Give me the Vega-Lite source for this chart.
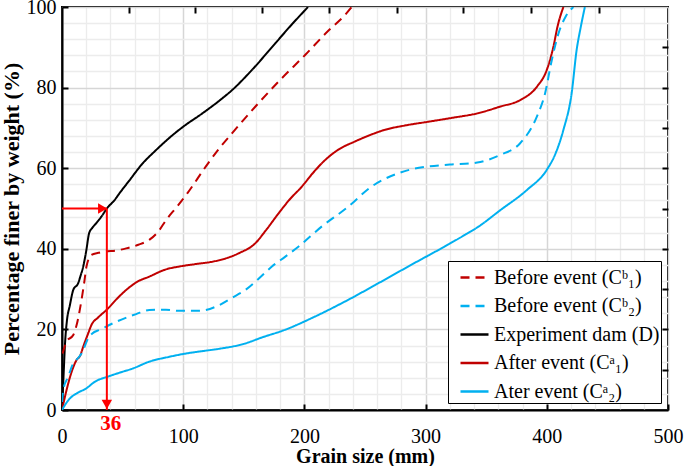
{
  "$schema": "https://vega.github.io/schema/vega-lite/v6.json",
  "width": 606,
  "height": 403,
  "autosize": "none",
  "padding": {"left": 62, "top": 7, "right": 17, "bottom": 56},
  "config": {
    "view": {"stroke": "black", "strokeWidth": 2},
    "font": "Liberation Serif",
    "axis": {"labelFont": "Liberation Serif", "labelFontSize": 20, "labelColor": "black", "labelFlush": false, "titleFont": "Liberation Serif"},
    "legend": {
      "labelFont": "Liberation Serif",
      "labelFontSize": 20,
      "labelColor": "black",
      "labelLimit": 400,
      "symbolType": "stroke",
      "symbolSize": 784,
      "symbolStrokeWidth": 2.5,
      "symbolOffset": 10,
      "strokeColor": "black",
      "fillColor": "white",
      "padding": 1,
      "rowPadding": 2.5,
      "labelOffset": 4,
      "cornerRadius": 0
    }
  },
  "datasets": {
    "curves": [
      {"series": "Experiment dam (D)", "x": 0, "y": 0},
      {"series": "Experiment dam (D)", "x": 1.5, "y": 10},
      {"series": "Experiment dam (D)", "x": 2.5, "y": 16.5},
      {"series": "Experiment dam (D)", "x": 4, "y": 22},
      {"series": "Experiment dam (D)", "x": 6.5, "y": 26},
      {"series": "Experiment dam (D)", "x": 9.3, "y": 29.8},
      {"series": "Experiment dam (D)", "x": 13.4, "y": 31.5},
      {"series": "Experiment dam (D)", "x": 15, "y": 33},
      {"series": "Experiment dam (D)", "x": 17.5, "y": 35.6},
      {"series": "Experiment dam (D)", "x": 20, "y": 39.5},
      {"series": "Experiment dam (D)", "x": 22.4, "y": 43.9},
      {"series": "Experiment dam (D)", "x": 25, "y": 45.2},
      {"series": "Experiment dam (D)", "x": 28.4, "y": 46.4},
      {"series": "Experiment dam (D)", "x": 33, "y": 48.2},
      {"series": "Experiment dam (D)", "x": 37, "y": 50},
      {"series": "Experiment dam (D)", "x": 43.4, "y": 52.1},
      {"series": "Experiment dam (D)", "x": 47.5, "y": 53.8},
      {"series": "Experiment dam (D)", "x": 55.7, "y": 57},
      {"series": "Experiment dam (D)", "x": 66, "y": 61},
      {"series": "Experiment dam (D)", "x": 77.6, "y": 64.5},
      {"series": "Experiment dam (D)", "x": 91.2, "y": 68.2},
      {"series": "Experiment dam (D)", "x": 100, "y": 70.3},
      {"series": "Experiment dam (D)", "x": 115.8, "y": 73.6},
      {"series": "Experiment dam (D)", "x": 130, "y": 76.8},
      {"series": "Experiment dam (D)", "x": 140.4, "y": 79.4},
      {"series": "Experiment dam (D)", "x": 156.8, "y": 84.4},
      {"series": "Experiment dam (D)", "x": 176, "y": 91},
      {"series": "Experiment dam (D)", "x": 190, "y": 95.8},
      {"series": "Experiment dam (D)", "x": 203, "y": 100},

      {"series": "Before event (Cᵇ₁)", "x": 0.5, "y": 14},
      {"series": "Before event (Cᵇ₁)", "x": 3.8, "y": 17},
      {"series": "Before event (Cᵇ₁)", "x": 9.3, "y": 18.6},
      {"series": "Before event (Cᵇ₁)", "x": 12, "y": 21},
      {"series": "Before event (Cᵇ₁)", "x": 16.1, "y": 27.3},
      {"series": "Before event (Cᵇ₁)", "x": 18.5, "y": 32},
      {"series": "Before event (Cᵇ₁)", "x": 20.2, "y": 35.6},
      {"series": "Before event (Cᵇ₁)", "x": 24.3, "y": 38.5},
      {"series": "Before event (Cᵇ₁)", "x": 30, "y": 39},
      {"series": "Before event (Cᵇ₁)", "x": 35.2, "y": 39.3},
      {"series": "Before event (Cᵇ₁)", "x": 45, "y": 39.6},
      {"series": "Before event (Cᵇ₁)", "x": 53, "y": 40.1},
      {"series": "Before event (Cᵇ₁)", "x": 63, "y": 41},
      {"series": "Before event (Cᵇ₁)", "x": 72, "y": 42.2},
      {"series": "Before event (Cᵇ₁)", "x": 80, "y": 44.5},
      {"series": "Before event (Cᵇ₁)", "x": 85.8, "y": 47.1},
      {"series": "Before event (Cᵇ₁)", "x": 95, "y": 50.5},
      {"series": "Before event (Cᵇ₁)", "x": 103.5, "y": 53.8},
      {"series": "Before event (Cᵇ₁)", "x": 118.6, "y": 60.4},
      {"series": "Before event (Cᵇ₁)", "x": 130, "y": 65},
      {"series": "Before event (Cᵇ₁)", "x": 140.4, "y": 68.7},
      {"series": "Before event (Cᵇ₁)", "x": 159.6, "y": 75.3},
      {"series": "Before event (Cᵇ₁)", "x": 178.7, "y": 81.5},
      {"series": "Before event (Cᵇ₁)", "x": 200.6, "y": 88.1},
      {"series": "Before event (Cᵇ₁)", "x": 219.7, "y": 94.1},
      {"series": "Before event (Cᵇ₁)", "x": 233.4, "y": 98},
      {"series": "Before event (Cᵇ₁)", "x": 239, "y": 100},

      {"series": "After event (Cᵃ₁)", "x": 0, "y": 0},
      {"series": "After event (Cᵃ₁)", "x": 3.8, "y": 5},
      {"series": "After event (Cᵃ₁)", "x": 8, "y": 9.5},
      {"series": "After event (Cᵃ₁)", "x": 12, "y": 12.4},
      {"series": "After event (Cᵃ₁)", "x": 15, "y": 13.5},
      {"series": "After event (Cᵃ₁)", "x": 17.5, "y": 15.7},
      {"series": "After event (Cᵃ₁)", "x": 21.6, "y": 19},
      {"series": "After event (Cᵃ₁)", "x": 24.3, "y": 21.1},
      {"series": "After event (Cᵃ₁)", "x": 30, "y": 23},
      {"series": "After event (Cᵃ₁)", "x": 38, "y": 25.2},
      {"series": "After event (Cᵃ₁)", "x": 45, "y": 27.5},
      {"series": "After event (Cᵃ₁)", "x": 53, "y": 29.8},
      {"series": "After event (Cᵃ₁)", "x": 62, "y": 31.8},
      {"series": "After event (Cᵃ₁)", "x": 72, "y": 33.1},
      {"series": "After event (Cᵃ₁)", "x": 85.8, "y": 34.9},
      {"series": "After event (Cᵃ₁)", "x": 96.7, "y": 35.6},
      {"series": "After event (Cᵃ₁)", "x": 110, "y": 36.2},
      {"series": "After event (Cᵃ₁)", "x": 124, "y": 36.8},
      {"series": "After event (Cᵃ₁)", "x": 135, "y": 37.6},
      {"series": "After event (Cᵃ₁)", "x": 145.9, "y": 38.9},
      {"series": "After event (Cᵃ₁)", "x": 159.6, "y": 41.4},
      {"series": "After event (Cᵃ₁)", "x": 168, "y": 44.5},
      {"series": "After event (Cᵃ₁)", "x": 178.7, "y": 48.8},
      {"series": "After event (Cᵃ₁)", "x": 188, "y": 52.3},
      {"series": "After event (Cᵃ₁)", "x": 197.8, "y": 55.4},
      {"series": "After event (Cᵃ₁)", "x": 207, "y": 58.8},
      {"series": "After event (Cᵃ₁)", "x": 217, "y": 62},
      {"series": "After event (Cᵃ₁)", "x": 228, "y": 64.6},
      {"series": "After event (Cᵃ₁)", "x": 241.5, "y": 66.6},
      {"series": "After event (Cᵃ₁)", "x": 254, "y": 68.2},
      {"series": "After event (Cᵃ₁)", "x": 266.1, "y": 69.5},
      {"series": "After event (Cᵃ₁)", "x": 283, "y": 70.6},
      {"series": "After event (Cᵃ₁)", "x": 301.6, "y": 71.5},
      {"series": "After event (Cᵃ₁)", "x": 322, "y": 72.5},
      {"series": "After event (Cᵃ₁)", "x": 342.6, "y": 73.6},
      {"series": "After event (Cᵃ₁)", "x": 361.7, "y": 75.3},
      {"series": "After event (Cᵃ₁)", "x": 378, "y": 76.9},
      {"series": "After event (Cᵃ₁)", "x": 391.8, "y": 80.2},
      {"series": "After event (Cᵃ₁)", "x": 400, "y": 84.4},
      {"series": "After event (Cᵃ₁)", "x": 405.5, "y": 90.2},
      {"series": "After event (Cᵃ₁)", "x": 408.8, "y": 95.1},
      {"series": "After event (Cᵃ₁)", "x": 413.7, "y": 100},

      {"series": "Before event (Cᵇ₂)", "x": 0, "y": 2},
      {"series": "Before event (Cᵇ₂)", "x": 1, "y": 5},
      {"series": "Before event (Cᵇ₂)", "x": 5.2, "y": 8.3},
      {"series": "Before event (Cᵇ₂)", "x": 9.3, "y": 11.6},
      {"series": "Before event (Cᵇ₂)", "x": 12, "y": 12.5},
      {"series": "Before event (Cᵇ₂)", "x": 16.1, "y": 14},
      {"series": "Before event (Cᵇ₂)", "x": 19, "y": 16},
      {"series": "Before event (Cᵇ₂)", "x": 21.6, "y": 17.8},
      {"series": "Before event (Cᵇ₂)", "x": 25, "y": 19},
      {"series": "Before event (Cᵇ₂)", "x": 31.1, "y": 19.9},
      {"series": "Before event (Cᵇ₂)", "x": 44.8, "y": 21.9},
      {"series": "Before event (Cᵇ₂)", "x": 61.2, "y": 23.8},
      {"series": "Before event (Cᵇ₂)", "x": 72.1, "y": 24.8},
      {"series": "Before event (Cᵇ₂)", "x": 85.8, "y": 24.9},
      {"series": "Before event (Cᵇ₂)", "x": 96.7, "y": 24.6},
      {"series": "Before event (Cᵇ₂)", "x": 113, "y": 24.6},
      {"series": "Before event (Cᵇ₂)", "x": 129.5, "y": 26},
      {"series": "Before event (Cᵇ₂)", "x": 140, "y": 27.8},
      {"series": "Before event (Cᵇ₂)", "x": 151.4, "y": 29.8},
      {"series": "Before event (Cᵇ₂)", "x": 162, "y": 32.5},
      {"series": "Before event (Cᵇ₂)", "x": 173.2, "y": 35.6},
      {"series": "Before event (Cᵇ₂)", "x": 184, "y": 38},
      {"series": "Before event (Cᵇ₂)", "x": 195, "y": 40.5},
      {"series": "Before event (Cᵇ₂)", "x": 214.2, "y": 45.5},
      {"series": "Before event (Cᵇ₂)", "x": 236, "y": 50.4},
      {"series": "Before event (Cᵇ₂)", "x": 255.2, "y": 55.4},
      {"series": "Before event (Cᵇ₂)", "x": 266, "y": 57.3},
      {"series": "Before event (Cᵇ₂)", "x": 277, "y": 58.7},
      {"series": "Before event (Cᵇ₂)", "x": 288, "y": 59.7},
      {"series": "Before event (Cᵇ₂)", "x": 301.6, "y": 60.4},
      {"series": "Before event (Cᵇ₂)", "x": 320, "y": 60.9},
      {"series": "Before event (Cᵇ₂)", "x": 342.6, "y": 61.4},
      {"series": "Before event (Cᵇ₂)", "x": 361.7, "y": 63.3},
      {"series": "Before event (Cᵇ₂)", "x": 378, "y": 66.2},
      {"series": "Before event (Cᵇ₂)", "x": 391.8, "y": 72.8},
      {"series": "Before event (Cᵇ₂)", "x": 398.6, "y": 78.6},
      {"series": "Before event (Cᵇ₂)", "x": 404.1, "y": 86.8},
      {"series": "Before event (Cᵇ₂)", "x": 409.6, "y": 93.4},
      {"series": "Before event (Cᵇ₂)", "x": 415.5, "y": 97.6},
      {"series": "Before event (Cᵇ₂)", "x": 421.9, "y": 100},

      {"series": "Ater event (Cᵃ₂)", "x": 0, "y": 0},
      {"series": "Ater event (Cᵃ₂)", "x": 3, "y": 1.5},
      {"series": "Ater event (Cᵃ₂)", "x": 6.6, "y": 2.9},
      {"series": "Ater event (Cᵃ₂)", "x": 12, "y": 4.1},
      {"series": "Ater event (Cᵃ₂)", "x": 20.2, "y": 5.4},
      {"series": "Ater event (Cᵃ₂)", "x": 27, "y": 7},
      {"series": "Ater event (Cᵃ₂)", "x": 38, "y": 8.3},
      {"series": "Ater event (Cᵃ₂)", "x": 48, "y": 9.3},
      {"series": "Ater event (Cᵃ₂)", "x": 58.4, "y": 10.3},
      {"series": "Ater event (Cᵃ₂)", "x": 72.1, "y": 12},
      {"series": "Ater event (Cᵃ₂)", "x": 88.5, "y": 13.2},
      {"series": "Ater event (Cᵃ₂)", "x": 100, "y": 13.9},
      {"series": "Ater event (Cᵃ₂)", "x": 113, "y": 14.5},
      {"series": "Ater event (Cᵃ₂)", "x": 130, "y": 15.2},
      {"series": "Ater event (Cᵃ₂)", "x": 150, "y": 16.4},
      {"series": "Ater event (Cᵃ₂)", "x": 165, "y": 18},
      {"series": "Ater event (Cᵃ₂)", "x": 184, "y": 19.9},
      {"series": "Ater event (Cᵃ₂)", "x": 206, "y": 22.8},
      {"series": "Ater event (Cᵃ₂)", "x": 233.4, "y": 26.9},
      {"series": "Ater event (Cᵃ₂)", "x": 260.7, "y": 31.4},
      {"series": "Ater event (Cᵃ₂)", "x": 288, "y": 36},
      {"series": "Ater event (Cᵃ₂)", "x": 315.3, "y": 40.5},
      {"series": "Ater event (Cᵃ₂)", "x": 334.4, "y": 43.8},
      {"series": "Ater event (Cᵃ₂)", "x": 342.6, "y": 45.3},
      {"series": "Ater event (Cᵃ₂)", "x": 361.7, "y": 49.6},
      {"series": "Ater event (Cᵃ₂)", "x": 383.6, "y": 54.6},
      {"series": "Ater event (Cᵃ₂)", "x": 400, "y": 59.6},
      {"series": "Ater event (Cᵃ₂)", "x": 407, "y": 63.5},
      {"series": "Ater event (Cᵃ₂)", "x": 413.7, "y": 69.5},
      {"series": "Ater event (Cᵃ₂)", "x": 420.5, "y": 78.6},
      {"series": "Ater event (Cᵃ₂)", "x": 424.6, "y": 89.3},
      {"series": "Ater event (Cᵃ₂)", "x": 428, "y": 95},
      {"series": "Ater event (Cᵃ₂)", "x": 431.4, "y": 100}
    ],
    "arrows": [
      {"x": 0, "y": 50, "x2": 37, "y2": 50},
      {"x": 37, "y": 50, "x2": 37, "y2": 0}
    ],
    "heads": [
      {"x": 33.5, "y": 50, "shape": "triangle-right"},
      {"x": 37, "y": 1.4, "shape": "triangle-down"}
    ],
    "label36": [
      {"x": 37, "y": 0, "text": "36"}
    ]
  },
  "resolve": {"axis": {"x": "independent", "y": "independent"}},
  "layer": [
    {
      "data": {"name": "curves"},
      "mark": {"type": "line", "strokeWidth": 2, "interpolate": "monotone", "clip": true},
      "encoding": {
        "x": {
          "field": "x", "type": "quantitative",
          "scale": {"domain": [0, 500], "nice": false, "zero": true},
          "axis": {"orient": "bottom", "values": [20, 40, 60, 80, 120, 140, 160, 180, 220, 240, 260, 280, 320, 340, 360, 380, 420, 440, 460, 480],
            "grid": true, "gridColor": "#ececec", "gridWidth": 1.3, "labels": false, "ticks": false, "domain": false, "title": null}
        },
        "y": {
          "field": "y", "type": "quantitative",
          "scale": {"domain": [0, 100], "nice": false},
          "axis": {"orient": "left", "values": [4, 8, 12, 16, 24, 28, 32, 36, 44, 48, 52, 56, 64, 68, 72, 76, 84, 88, 92, 96],
            "grid": true, "gridColor": "#ececec", "gridWidth": 1.3, "labels": false, "ticks": false, "domain": false, "title": null}
        },
        "color": {
          "field": "series", "type": "nominal",
          "scale": {
            "domain": ["Before event (Cᵇ₁)", "Before event (Cᵇ₂)", "Experiment dam (D)", "After event (Cᵃ₁)", "Ater event (Cᵃ₂)"],
            "range": ["#c00000", "#00b0f0", "#000000", "#c00000", "#00b0f0"]
          },
          "legend": {"title": null, "orient": "bottom-right", "offset": 7, "labelFont": "Liberation Serif", "labelFontSize": 20, "labelLimit": 400}
        },
        "strokeDash": {
          "field": "series", "type": "nominal",
          "scale": {
            "domain": ["Before event (Cᵇ₁)", "Before event (Cᵇ₂)", "Experiment dam (D)", "After event (Cᵃ₁)", "Ater event (Cᵃ₂)"],
            "range": [[9, 6], [9, 6], [1, 0], [1, 0], [1, 0]]
          },
          "legend": {"title": null, "orient": "bottom-right", "offset": 7, "labelFont": "Liberation Serif", "labelFontSize": 20, "labelLimit": 400}
        }
      }
    },
    {
      "data": {"name": "arrows"},
      "mark": {"type": "rule", "color": "#ff0000", "strokeWidth": 2},
      "encoding": {
        "x": {
          "field": "x", "type": "quantitative",
          "axis": {"orient": "bottom", "values": [0, 100, 200, 300, 400, 500],
            "grid": true, "gridColor": "#d6d6d6", "gridWidth": 1.5,
            "domain": true, "domainColor": "black", "domainWidth": 2,
            "ticks": true, "tickColor": "black", "tickWidth": 2, "tickSize": -6,
            "labelFont": "Liberation Serif", "labelFontSize": 20, "labelColor": "black", "labelPadding": 22, "labelFlush": false,
            "title": "Grain size (mm)", "titleFont": "Liberation Serif", "titleFontSize": 20, "titleFontWeight": "bold", "titleColor": "black", "titlePadding": 0}
        },
        "x2": {"field": "x2"},
        "y": {
          "field": "y", "type": "quantitative",
          "axis": {"orient": "left", "values": [0, 20, 40, 60, 80, 100],
            "grid": true, "gridColor": "#d6d6d6", "gridWidth": 1.5,
            "domain": true, "domainColor": "black", "domainWidth": 2,
            "ticks": true, "tickColor": "black", "tickWidth": 2, "tickSize": -6,
            "labelFont": "Liberation Serif", "labelFontSize": 20, "labelColor": "black", "labelPadding": 12, "labelFlush": false,
            "title": "Percentage finer by weight (%)", "titleFont": "Liberation Serif", "titleFontSize": 22, "titleFontWeight": "bold", "titleColor": "black", "titlePadding": 3}
        },
        "y2": {"field": "y2"}
      }
    },
    {
      "data": {"name": "heads"},
      "mark": {"type": "point", "filled": true, "color": "#ff0000", "opacity": 1, "size": 110},
      "encoding": {
        "x": {
          "field": "x", "type": "quantitative",
          "axis": {"orient": "top", "values": [55, 110, 165, 220, 276, 331, 387, 443],
            "grid": false, "labels": false, "domain": false, "ticks": true, "tickColor": "black", "tickWidth": 2, "tickSize": -6, "title": null}
        },
        "y": {
          "field": "y", "type": "quantitative",
          "axis": {"orient": "right", "values": [10, 20, 30, 40, 50, 60, 70, 80, 90],
            "grid": false, "labels": false, "domain": false, "ticks": true, "tickColor": "black", "tickWidth": 2, "tickSize": -6, "title": null}
        },
        "shape": {"field": "shape", "type": "nominal", "scale": null}
      }
    },
    {
      "data": {"name": "label36"},
      "mark": {"type": "text", "color": "#ff0000", "font": "Liberation Serif", "fontSize": 21, "fontWeight": "bold", "baseline": "top", "align": "center", "dy": 3, "dx": 4},
      "encoding": {
        "x": {"field": "x", "type": "quantitative", "axis": null},
        "y": {"field": "y", "type": "quantitative", "axis": null},
        "text": {"field": "text"}
      }
    }
  ]
}
